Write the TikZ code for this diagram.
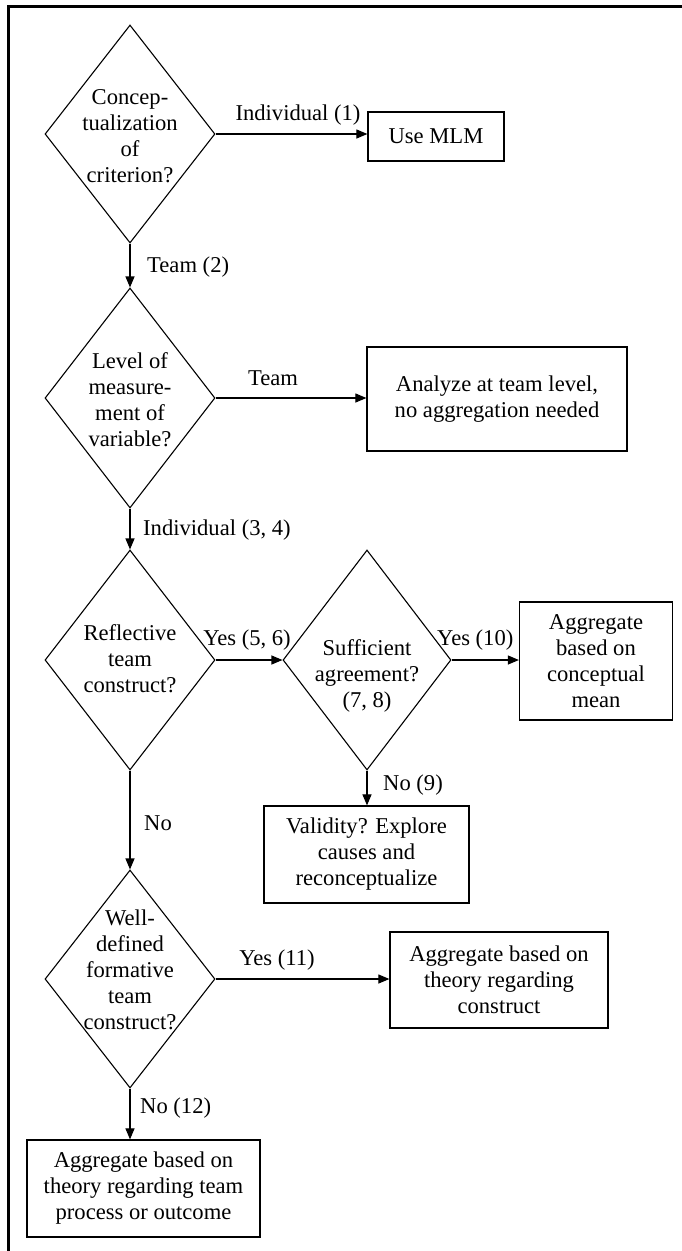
\documentclass[tikz,border=0pt]{standalone}
\usepackage{fontspec}
\setmainfont{Liberation Serif}
\usetikzlibrary{shapes.geometric,arrows.meta}
\begin{document}
\begin{tikzpicture}[x=1pt,y=-1pt,
  every node/.style={font=\fontsize{22.6}{26}\selectfont},
  dia/.style={diamond, draw, line width=1.1pt, inner sep=0pt, minimum width=170pt, minimum height=218pt},
  txt/.style={align=center, inner sep=0pt},
  box/.style={draw, line width=1.2pt, inner sep=0pt, align=center},
  arr/.style={line width=1.1pt, -{Triangle[length=11pt,width=9pt]}},
  lbl/.style={inner sep=0pt}]
\useasboundingbox (0,0) rectangle (681,1251);
\draw[line width=3pt] (8,1260) -- (8,6) -- (690,6);

% decisions and boxes
\node[dia] (d1) at (130,134) {};
\node[txt] at (130,136) {Concep-\\tualization\\of\\criterion?};
\node[box, minimum width=136pt, minimum height=49pt] (mlm) at (436,136.5) {Use MLM};

\node[dia, minimum height=220pt] (d2) at (130,398) {};
\node[txt] at (130,399.5) {Level of\\measure-\\ment of\\variable?};
\node[box, minimum width=260pt, minimum height=104pt] (team) at (497,399) {Analyze at team level,\\no aggregation needed};

\node[dia, minimum height=220pt] (d3) at (130,660) {};
\node[txt] at (130,659) {Reflective\\team\\construct?};

\node[dia, minimum width=168pt, minimum height=220pt] (d4) at (367,660) {};
\node[txt] at (367,676) {Sufficient\\agreement?\\(7, 8)};
\node[box, minimum width=153pt, minimum height=118pt] (cm) at (596,661) {Aggregate\\based on\\conceptual\\mean};
\node[box, minimum width=205pt, minimum height=97pt] (val) at (366.5,854.5) {Validity? Explore\\causes and\\reconceptualize};

\node[dia] (d5) at (130,979) {};
\node[txt] at (130,969.5) {Well-\\defined\\formative\\team\\construct?};
\node[box, minimum width=218pt, minimum height=96pt] (tc) at (499,980) {Aggregate based on\\theory regarding\\construct};
\node[box, minimum width=233pt, minimum height=97pt] (tp) at (143.5,1188.5) {Aggregate based on\\theory regarding team\\process or outcome};

% connectors
\draw[arr] (d1.east) -- (d1.east -| mlm.west);
\draw[arr] (d1.south) -- (d2.north);
\draw[arr] (d2.east) -- (d2.east -| team.west);
\draw[arr] (d2.south) -- (d3.north);
\draw[arr] (d3.east) -- (d4.west);
\draw[arr] (d4.east) -- (d4.east -| cm.west);
\draw[arr] (d4.south) -- (d4.south |- val.north);
\draw[arr] (d3.south) -- (d5.north);
\draw[arr] (d5.east) -- (d5.east -| tc.west);
\draw[arr] (d5.south) -- (d5.south |- tp.north);

% labels
\node[lbl] at (298,115) {Individual (1)};
\node[lbl, anchor=west] at (147,267) {Team (2)};
\node[lbl] at (273,378) {Team};
\node[lbl, anchor=west] at (143,530) {Individual (3, 4)};
\node[lbl] at (247,640) {Yes (5, 6)};
\node[lbl, anchor=west] at (437,640) {Yes (10)};
\node[lbl, anchor=west] at (383,785) {No (9)};
\node[lbl, anchor=west] at (144,823) {No};
\node[lbl] at (277,960) {Yes (11)};
\node[lbl, anchor=west] at (140,1108) {No (12)};
\end{tikzpicture}
\end{document}
